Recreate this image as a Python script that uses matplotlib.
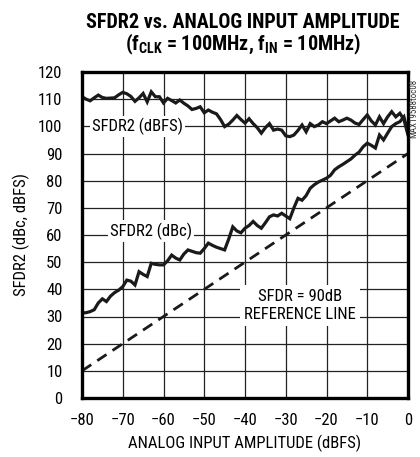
import numpy as np
import matplotlib
matplotlib.use('Agg')
import matplotlib.pyplot as plt
from matplotlib import font_manager

# pick a narrow font if one is there
names = {f.name for f in font_manager.fontManager.ttflist}
font = 'Liberation Sans'
for cand in ['Liberation Sans Narrow', 'DejaVu Sans Condensed', 'Roboto Condensed']:
    if cand in names:
        font = cand
        break

plt.rcParams['font.family'] = [font, 'DejaVu Sans']
plt.rcParams['mathtext.fontset'] = 'custom'
plt.rcParams['mathtext.rm'] = font + ':bold'
plt.rcParams['mathtext.default'] = 'rm'

# data
amp = list(range(-80, 1))
sfdr_dbfs = [110.9, 110.0, 109.4, 110.5, 111.5, 110.6, 110.3, 110.4, 110.5, 111.6,
             112.5, 112.0, 111.0, 109.2, 110.5, 112.1, 109.0, 112.7, 110.9, 110.9,
             108.6, 110.3, 109.5, 108.6, 109.7, 108.5, 107.5, 106.2, 106.6, 107.2,
             105.0, 106.0, 105.2, 104.6, 102.5, 99.9, 100.8, 102.3, 104.0, 102.5,
             101.2, 102.8, 101.0, 99.5, 97.5, 99.5, 101.0, 98.6, 99.0, 98.6,
             96.5, 96.2, 96.8, 98.5, 100.5, 98.0, 101.0, 99.9, 100.5, 101.7,
             101.0, 102.0, 103.0, 101.7, 102.3, 103.0, 102.3, 101.2, 100.7, 102.5,
             104.2, 102.0, 100.5, 103.5, 101.0, 103.5, 105.4, 103.5, 104.8, 102.5,
             96.8]
sfdr_dbc = [31.3, 31.4, 31.8, 32.5, 35.0, 36.5, 35.5, 37.5, 38.8, 39.7,
            41.0, 43.4, 43.0, 41.6, 46.5, 45.5, 44.7, 49.6, 49.2, 49.0,
            49.0, 50.5, 52.6, 51.5, 50.8, 53.0, 54.5, 54.0, 53.5, 53.3,
            55.0, 57.0, 56.2, 55.5, 55.0, 54.5, 58.5, 63.0, 61.5, 60.8,
            62.5, 63.5, 65.0, 63.5, 62.5, 64.5, 66.7, 67.4, 67.0, 68.0,
            67.0, 66.0, 70.0, 73.5, 72.8, 74.5, 77.2, 78.5, 79.5, 80.2,
            80.9, 82.0, 84.0, 85.1, 86.0, 87.0, 88.0, 89.4, 90.5, 92.5,
            93.8, 93.0, 92.0, 96.8, 95.0, 97.5, 99.9, 101.0, 101.7, 103.5,
            97.5]
ref_x = [-80, 0]
ref_y = [10, 90]

fig = plt.figure(figsize=(4.2, 4.57), dpi=100)
ax = fig.add_axes([82/420, 1 - 398/457, 326/420, 326/457])

ax.plot(amp, sfdr_dbfs, color='#1a1a1a', lw=2.3, solid_joinstyle='miter', zorder=3)
ax.plot(amp, sfdr_dbc, color='#1a1a1a', lw=2.3, solid_joinstyle='miter', zorder=3)
ax.plot(ref_x, ref_y, color='#1a1a1a', lw=2.0, dashes=(4, 2.6), zorder=3)

ax.set_xlim(-80, 0)
ax.set_ylim(0, 120)
ax.set_xticks(range(-80, 1, 10))
ax.set_yticks(range(0, 121, 10))
ax.grid(True, color='#222222', lw=0.9)
ax.set_axisbelow(True)
ax.tick_params(length=0, labelsize=12)
ax.tick_params(axis='y', pad=14)
ax.tick_params(axis='x', pad=11)
for s in ax.spines.values():
    s.set_linewidth(2.4)
    s.set_zorder(4)

ax.set_xlabel('ANALOG INPUT AMPLITUDE (dBFS)', fontsize=12, labelpad=5)
ax.set_ylabel('SFDR2 (dBc, dBFS)', fontsize=12, labelpad=6)

box = dict(facecolor='white', edgecolor='none', pad=1.5)
ax.text(-66.3, 100, 'SFDR2 (dBFS)', fontsize=12, ha='center', va='center', bbox=box, zorder=2)
ax.text(-63, 61.5, 'SFDR2 (dBc)', fontsize=12, ha='center', va='center', bbox=box, zorder=2)
ax.text(-26.6, 34, 'SFDR = 90dB\nREFERENCE LINE', fontsize=12, ha='center', va='center',
        linespacing=1.25, bbox=dict(facecolor='white', edgecolor='none', pad=3), zorder=2)

fig.text(243/420, 1 - 22/457, 'SFDR2 vs. ANALOG INPUT AMPLITUDE', fontsize=14.5,
         fontweight='bold', ha='center', va='center')
fig.text(243/420, 1 - 44/457, r'(f$_{CLK}$ = 100MHz, f$_{IN}$ = 10MHz)', fontsize=14.5,
         fontweight='bold', ha='center', va='center')
fig.text(414/420, 1 - 108/457, 'MAX19588toc08', fontsize=6.5, rotation=90,
         ha='center', va='center', color='#333333')

fig.savefig('out.png', dpi=100)
